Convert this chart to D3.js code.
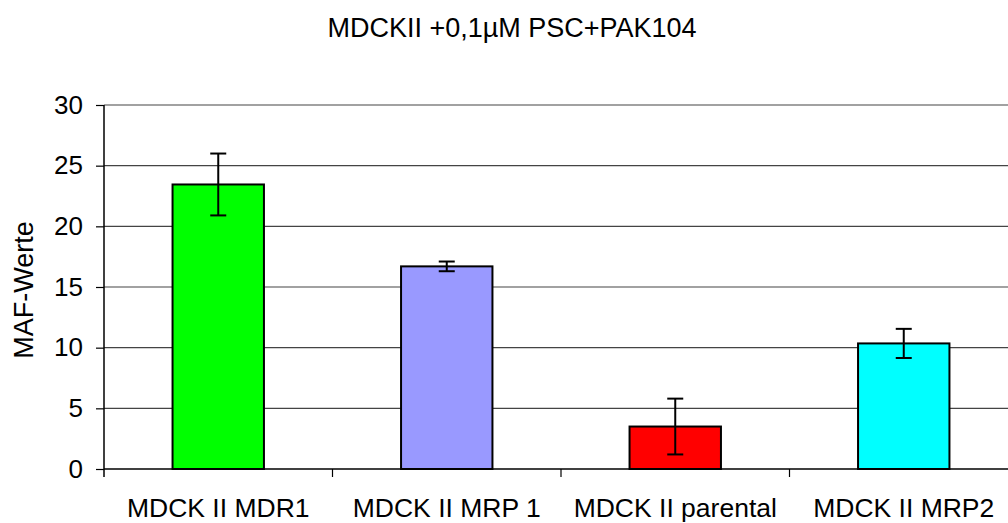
<!DOCTYPE html>
<html>
<head>
<meta charset="utf-8">
<script src="https://cdn.jsdelivr.net/npm/d3@7"></script>
<style>
  html, body { margin: 0; padding: 0; background: #fff; }
  svg { display: block; font-family: "Liberation Sans", Arial, sans-serif; }
</style>
</head>
<body>
<svg id="chart" width="1008" height="523"></svg>
<script>
// Cell lines and their mean MAF values with standard deviations
const categories = ["MDCK II MDR1", "MDCK II MRP 1", "MDCK II parental", "MDCK II MRP2"];
const values = [23.45, 16.7, 3.5, 10.35];
const errors = [2.55, 0.4, 2.3, 1.2];
const barColors = ["#00ff00", "#9999ff", "#ff0000", "#00ffff"];
const yTicks = [0, 5, 10, 15, 20, 25, 30];
const title = "MDCKII +0,1µM PSC+PAK104";
const yTitle = "MAF-Werte";

(function draw() {
  const svg = d3.select("#chart");
  const plotLeft = 104, plotRight = 1018, plotTop = 105, plotBottom = 469;

  const x = d3.scaleBand().domain(categories).range([plotLeft, plotRight]).padding(0);
  const y = d3.scaleLinear().domain([0, 30]).range([plotBottom, plotTop]);

  // Horizontal gridlines
  svg.append("g")
    .selectAll("line")
    .data(yTicks.filter(d => d > 0))
    .join("line")
    .attr("x1", plotLeft).attr("x2", plotRight)
    .attr("y1", d => y(d)).attr("y2", d => y(d))
    .attr("stroke", "#444").attr("stroke-width", 1.2);

  // Y axis
  const yAxis = svg.append("g")
    .attr("transform", `translate(${plotLeft},0)`)
    .call(d3.axisLeft(y).tickValues(yTicks).tickSize(8).tickPadding(13));
  yAxis.select(".domain").attr("stroke", "#000").attr("stroke-width", 1.5)
    .attr("d", `M0,${plotTop}V${plotBottom + 8}`);
  yAxis.selectAll(".tick line").attr("stroke", "#000").attr("stroke-width", 1.2);
  yAxis.selectAll(".tick text")
    .attr("font-size", 26).attr("fill", "#000")
    .attr("font-family", "Liberation Sans, Arial, sans-serif");

  // X axis: ticks sit between the categories
  const xAxisG = svg.append("g").attr("transform", `translate(0,${plotBottom})`);
  xAxisG.append("line")
    .attr("x1", plotLeft).attr("x2", plotRight).attr("y1", 0).attr("y2", 0)
    .attr("stroke", "#000").attr("stroke-width", 1.5);
  xAxisG.selectAll("line.tk")
    .data(categories)
    .join("line").attr("class", "tk")
    .attr("x1", d => x(d) + x.bandwidth()).attr("x2", d => x(d) + x.bandwidth())
    .attr("y1", 0).attr("y2", 8)
    .attr("stroke", "#000").attr("stroke-width", 1.2);
  xAxisG.selectAll("text")
    .data(categories)
    .join("text")
    .attr("x", d => x(d) + x.bandwidth() / 2)
    .attr("y", 48)
    .attr("text-anchor", "middle")
    .attr("font-size", 26.5)
    .attr("fill", "#000")
    .text(d => d);

  // Bars
  const barW = x.bandwidth() * 0.4;
  svg.append("g")
    .selectAll("rect")
    .data(categories)
    .join("rect")
    .attr("x", d => x(d) + (x.bandwidth() - barW) / 2)
    .attr("y", (d, i) => y(values[i]))
    .attr("width", barW)
    .attr("height", (d, i) => y(0) - y(values[i]))
    .attr("fill", (d, i) => barColors[i])
    .attr("stroke", "#000").attr("stroke-width", 2);

  // Error bars
  const eb = svg.append("g").attr("stroke", "#000").attr("stroke-width", 2);
  const cap = 8;
  categories.forEach((c, i) => {
    const cx = x(c) + x.bandwidth() / 2;
    const hi = y(values[i] + errors[i]);
    const lo = y(values[i] - errors[i]);
    eb.append("line").attr("x1", cx).attr("x2", cx).attr("y1", hi).attr("y2", lo);
    eb.append("line").attr("x1", cx - cap).attr("x2", cx + cap).attr("y1", hi).attr("y2", hi);
    eb.append("line").attr("x1", cx - cap).attr("x2", cx + cap).attr("y1", lo).attr("y2", lo);
  });

  // Titles
  svg.append("text")
    .attr("x", 512).attr("y", 37)
    .attr("text-anchor", "middle")
    .attr("font-size", 27).attr("fill", "#000")
    .text(title);

  svg.append("text")
    .attr("transform", `translate(33,290) rotate(-90)`)
    .attr("text-anchor", "middle")
    .attr("font-size", 27).attr("fill", "#000")
    .text(yTitle);
})();
</script>
</body>
</html>
